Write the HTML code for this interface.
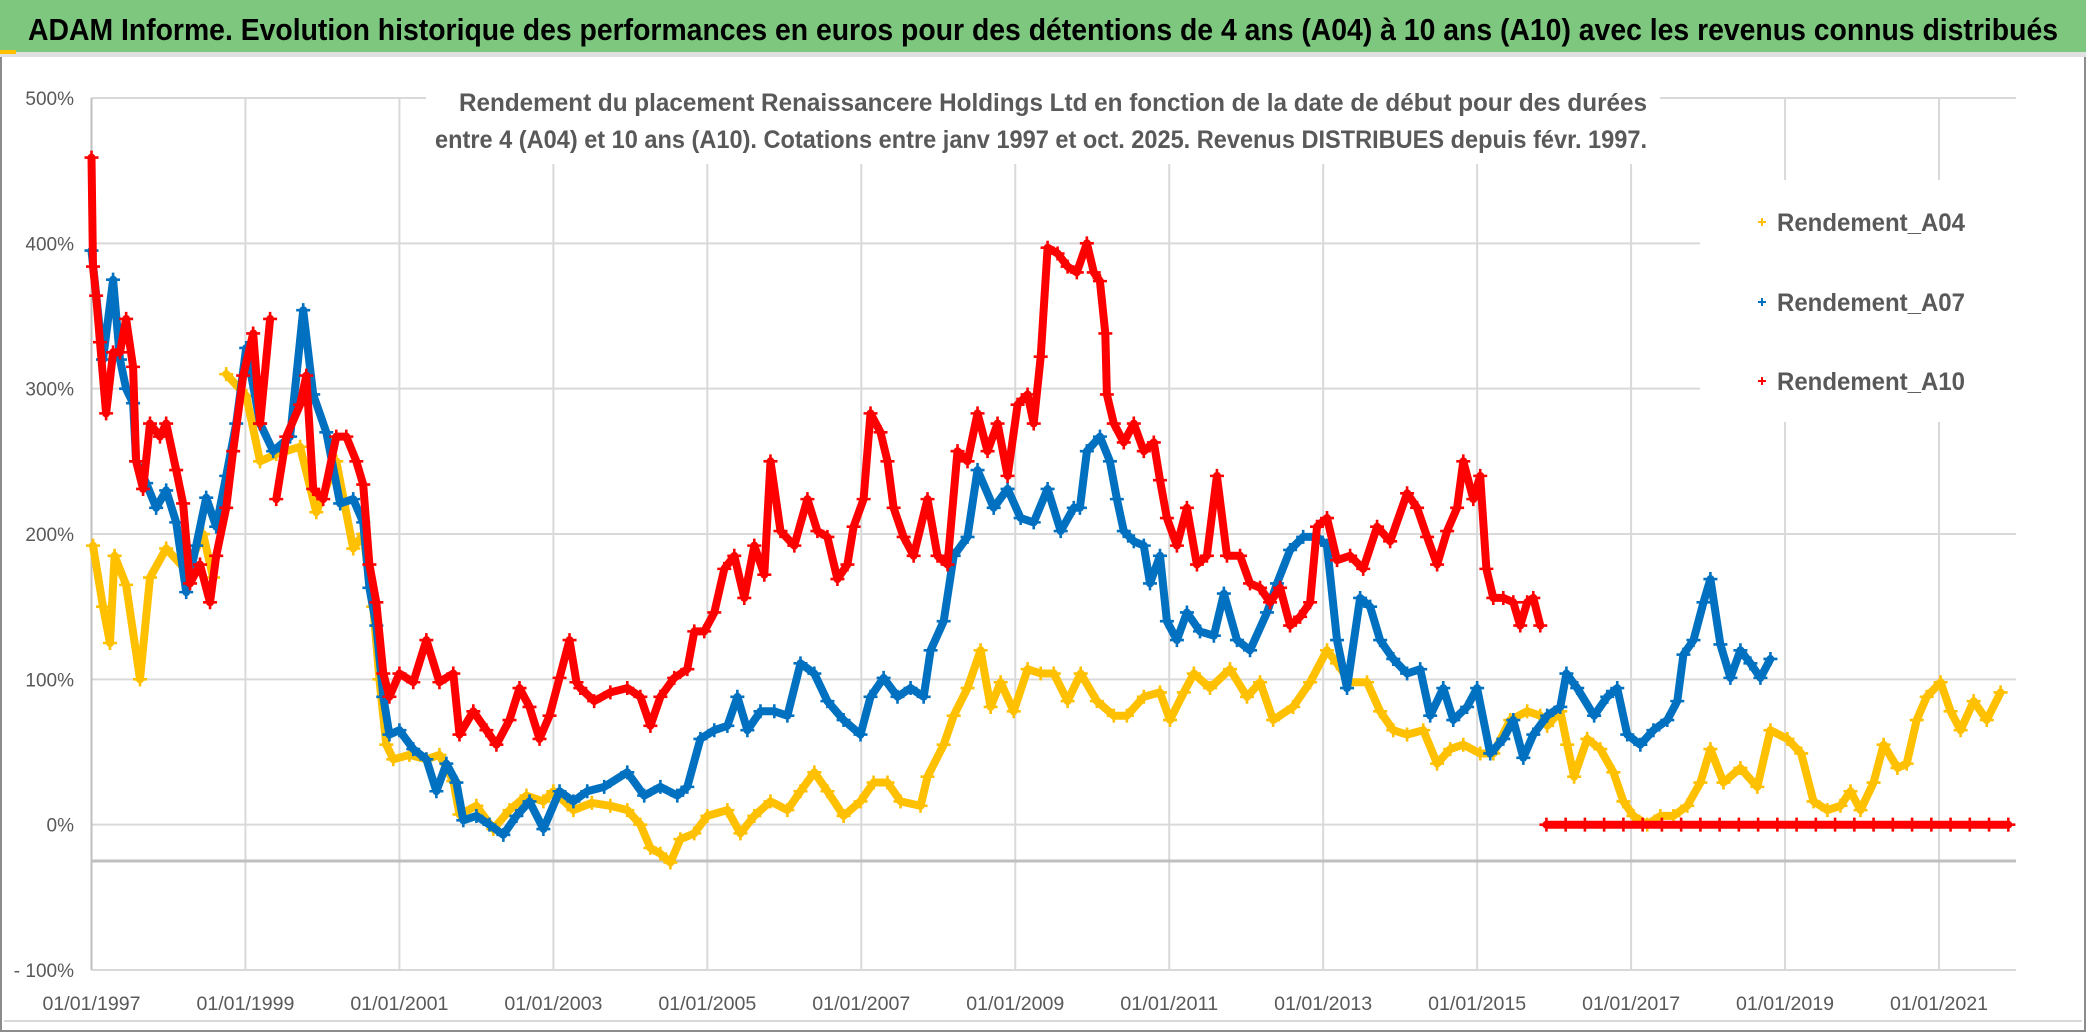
<!DOCTYPE html>
<html><head><meta charset="utf-8"><style>
html,body{margin:0;padding:0;background:#fff;}
svg{display:block;font-family:"Liberation Sans",sans-serif;}
</style></head><body>
<svg id="chart" width="2086" height="1032" viewBox="0 0 2086 1032" xmlns="http://www.w3.org/2000/svg">
<rect x="0" y="0" width="2086" height="1032" fill="#fff"/>
<rect x="1" y="1" width="2084" height="1030" fill="none" stroke="#8c8c8c" stroke-width="2"/>
<rect x="0" y="0" width="2086" height="52" fill="#7dc77f"/>
<rect x="0" y="52" width="2086" height="5" fill="#e0e0e0"/>
<rect x="0" y="50" width="16" height="4" fill="#ffc000"/>
<text x="1043" y="40" text-anchor="middle" font-size="31" font-weight="bold" fill="#000" textLength="2030" lengthAdjust="spacingAndGlyphs">ADAM Informe. Evolution historique des performances en euros pour des détentions de 4 ans (A04) à 10 ans (A10) avec les revenus connus distribués</text>
<rect x="4" y="1020" width="2078" height="2" fill="#d9d9d9"/>
<g id="grid"></g>
<g id="marks"></g>
<rect x="426" y="80" width="1234" height="84" fill="#fff"/>
<text x="1053" y="111" text-anchor="middle" font-size="25" font-weight="bold" fill="#595959" textLength="1188" lengthAdjust="spacingAndGlyphs">Rendement du placement Renaissancere Holdings Ltd en fonction de la date de début pour des durées</text>
<text x="1041" y="148" text-anchor="middle" font-size="25" font-weight="bold" fill="#595959" textLength="1212" lengthAdjust="spacingAndGlyphs">entre 4 (A04) et 10 ans (A10). Cotations entre janv 1997 et oct. 2025. Revenus DISTRIBUES depuis févr. 1997.</text>
<rect x="1700" y="180" width="316" height="242" fill="#fff"/>
<g id="legend"></g>
<g id="axes"></g>
</svg>
<script>
const yTicks = [500, 400, 300, 200, 100, 0, -100];
const yTickLabels = ["500%", "400%", "300%", "200%", "100%", "0%", "- 100%"];
const xTicks = [1997, 1999, 2001, 2003, 2005, 2007, 2009, 2011, 2013, 2015, 2017, 2019, 2021];
const xTickLabels = ["01/01/1997","01/01/1999","01/01/2001","01/01/2003","01/01/2005","01/01/2007","01/01/2009","01/01/2011","01/01/2013","01/01/2015","01/01/2017","01/01/2019","01/01/2021"];
const seriesNames = ["Rendement_A04", "Rendement_A07", "Rendement_A10"];
const a04Years = [1997.02,1997.15,1997.24,1997.30,1997.45,1997.63,1997.76,1997.97,1998.23,1998.45,1998.58,1998.75,1999.01,1999.19,1999.40,1999.71,1999.92,2000.18,2000.40,2000.53,2000.66,2000.74,2000.83,2000.92,2001.13,2001.35,2001.52,2001.70,2001.78,2002.00,2002.22,2002.43,2002.65,2002.87,2003.00,2003.26,2003.50,2003.74,2003.96,2004.13,2004.26,2004.39,2004.52,2004.65,2004.83,2005.00,2005.26,2005.43,2005.61,2005.82,2006.04,2006.21,2006.39,2006.56,2006.77,2006.99,2007.16,2007.34,2007.51,2007.77,2007.86,2008.07,2008.20,2008.38,2008.55,2008.68,2008.81,2008.98,2009.16,2009.33,2009.50,2009.68,2009.85,2010.06,2010.28,2010.45,2010.67,2010.88,2011.01,2011.19,2011.32,2011.53,2011.79,2012.01,2012.18,2012.35,2012.61,2012.83,2013.05,2013.18,2013.35,2013.57,2013.74,2013.91,2014.09,2014.30,2014.48,2014.65,2014.82,2015.04,2015.21,2015.43,2015.65,2015.82,2015.91,2016.08,2016.17,2016.26,2016.43,2016.60,2016.77,2016.90,2017.03,2017.21,2017.38,2017.55,2017.73,2017.90,2018.03,2018.20,2018.42,2018.64,2018.81,2019.03,2019.21,2019.37,2019.55,2019.72,2019.85,2019.98,2020.15,2020.28,2020.46,2020.58,2020.71,2020.84,2021.02,2021.15,2021.28,2021.45,2021.62,2021.80];
const a04Values = [192,150,125,185,165,100,170,190,175,200,170,310,295,250,255,260,215,250,190,200,150,100,55,45,48,45,48,30,7,13,-3,10,20,16,23,10,15,13,10,0,-16,-20,-26,-10,-6,6,10,-6,6,16,10,23,36,23,6,16,29,29,16,13,33,55,75,94,120,81,98,78,107,104,104,85,104,85,75,75,88,91,72,91,104,94,107,88,98,72,81,98,120,111,98,98,78,65,62,65,42,52,55,49,49,72,78,75,68,78,55,33,59,52,36,16,6,0,6,6,13,29,52,29,39,26,65,59,49,16,10,13,23,10,29,55,39,42,72,88,98,78,65,85,72,91];
const a07Years = [1997.00,1997.15,1997.28,1997.37,1997.45,1997.54,1997.58,1997.71,1997.84,1997.97,1998.10,1998.23,1998.36,1998.49,1998.62,1998.75,1998.88,1999.01,1999.19,1999.36,1999.58,1999.75,1999.88,2000.05,2000.23,2000.40,2000.53,2000.61,2000.70,2000.79,2000.87,2001.00,2001.18,2001.35,2001.48,2001.61,2001.74,2001.83,2002.00,2002.17,2002.35,2002.52,2002.69,2002.87,2003.08,2003.26,2003.44,2003.66,2003.96,2004.18,2004.39,2004.61,2004.74,2004.91,2005.09,2005.26,2005.39,2005.52,2005.69,2005.87,2006.04,2006.21,2006.39,2006.56,2006.77,2006.99,2007.12,2007.29,2007.47,2007.64,2007.81,2007.90,2008.07,2008.20,2008.38,2008.51,2008.72,2008.90,2009.07,2009.24,2009.42,2009.59,2009.76,2009.84,2009.93,2010.10,2010.23,2010.32,2010.41,2010.54,2010.67,2010.75,2010.88,2010.97,2011.10,2011.23,2011.40,2011.58,2011.71,2011.88,2012.05,2012.27,2012.40,2012.57,2012.74,2012.92,2013.05,2013.18,2013.31,2013.48,2013.61,2013.74,2013.91,2014.09,2014.26,2014.39,2014.56,2014.69,2014.87,2015.00,2015.17,2015.34,2015.47,2015.60,2015.73,2015.91,2016.08,2016.16,2016.30,2016.52,2016.69,2016.82,2016.95,2017.12,2017.29,2017.47,2017.60,2017.68,2017.81,2017.94,2018.03,2018.16,2018.29,2018.42,2018.55,2018.68,2018.81];
const a07Values = [395,320,375,320,300,290,250,235,218,230,208,160,192,225,205,240,276,328,276,257,267,354,296,270,221,224,208,163,137,88,62,65,52,45,23,42,29,3,6,0,-7,6,16,-3,23,16,23,26,36,20,26,20,26,59,65,68,88,65,78,78,75,111,104,85,72,62,88,101,88,94,88,120,140,185,198,244,218,231,211,208,231,202,218,218,257,267,250,224,202,195,192,166,185,140,127,146,133,130,159,127,120,146,166,189,198,198,192,127,94,156,150,127,114,104,107,75,94,72,81,94,49,59,72,46,62,75,81,104,94,75,88,94,62,55,65,72,85,117,127,153,169,124,101,120,111,101,114];
const a10Years = [1997.00,1997.02,1997.06,1997.11,1997.19,1997.28,1997.37,1997.45,1997.54,1997.58,1997.67,1997.76,1997.89,1997.97,1998.10,1998.19,1998.28,1998.41,1998.54,1998.62,1998.75,1998.84,1998.97,1999.10,1999.19,1999.32,1999.40,1999.53,1999.71,1999.79,1999.88,2000.01,2000.18,2000.31,2000.44,2000.53,2000.61,2000.70,2000.79,2000.87,2001.00,2001.18,2001.35,2001.52,2001.70,2001.78,2001.96,2002.13,2002.26,2002.43,2002.56,2002.69,2002.82,2002.95,2003.08,2003.21,2003.30,2003.35,2003.53,2003.74,2003.96,2004.13,2004.26,2004.39,2004.57,2004.74,2004.83,2004.96,2005.09,2005.22,2005.35,2005.48,2005.61,2005.74,2005.82,2005.95,2006.13,2006.30,2006.43,2006.56,2006.69,2006.82,2006.90,2007.03,2007.12,2007.25,2007.34,2007.42,2007.55,2007.68,2007.86,2007.99,2008.12,2008.25,2008.38,2008.51,2008.64,2008.77,2008.90,2009.03,2009.16,2009.24,2009.33,2009.42,2009.55,2009.68,2009.80,2009.93,2010.02,2010.10,2010.17,2010.19,2010.28,2010.41,2010.54,2010.67,2010.80,2010.88,2010.97,2011.10,2011.23,2011.36,2011.49,2011.62,2011.75,2011.92,2012.05,2012.18,2012.31,2012.44,2012.57,2012.70,2012.83,2012.92,2013.05,2013.18,2013.35,2013.52,2013.70,2013.87,2014.09,2014.22,2014.35,2014.48,2014.61,2014.74,2014.82,2014.95,2015.04,2015.12,2015.21,2015.34,2015.47,2015.56,2015.65,2015.73,2015.82,2015.90,2016.15,2016.40,2016.65,2016.90,2017.15,2017.40,2017.65,2017.90,2018.15,2018.40,2018.65,2018.90,2019.15,2019.40,2019.65,2019.90,2020.15,2020.40,2020.65,2020.90,2021.15,2021.40,2021.65,2021.90,2022.00];
const a10Values = [459,384,364,332,283,325,325,348,315,250,231,276,267,276,244,221,166,179,153,185,218,257,309,338,276,348,224,267,289,309,231,224,267,267,250,234,179,153,104,88,104,98,127,98,104,62,78,65,55,72,94,81,59,75,101,127,98,94,85,91,94,88,68,88,101,107,133,133,146,176,185,156,192,172,250,202,192,224,202,198,169,179,205,224,283,270,250,218,198,185,224,185,179,257,250,283,257,276,240,289,296,276,322,397,393,384,380,400,380,374,338,296,276,263,276,257,263,237,211,192,218,179,185,240,185,185,166,163,153,163,137,143,153,205,211,182,185,176,205,195,228,218,198,179,202,218,250,224,240,176,156,156,153,137,153,156,137,0,0,0,0,0,0,0,0,0,0,0,0,0,0,0,0,0,0,0,0,0,0,0,0,0];

const NS = "http://www.w3.org/2000/svg";
const X0 = 91.5, X1 = 2016, YEAR0 = 1997, YEAR1 = 2022;
const Y_TOP = 98, Y_BOT = 970, V_TOP = 500, V_BOT = -100;
function xScale(yr){ return X0 + (yr - YEAR0) / (YEAR1 - YEAR0) * (X1 - X0); }
function yScale(v){ return Y_TOP + (V_TOP - v) / (V_TOP - V_BOT) * (Y_BOT - Y_TOP); }
function mk(tag, attrs, parent){ const e = document.createElementNS(NS, tag); for (const k in attrs) e.setAttribute(k, attrs[k]); parent.appendChild(e); return e; }

const grid = document.getElementById('grid');
const axes = document.getElementById('axes');
const marks = document.getElementById('marks');
const legend = document.getElementById('legend');

yTicks.forEach((v, i) => {
  const l = mk('line', {x1: X0, x2: X1, y1: yScale(v), y2: yScale(v), stroke: '#d9d9d9', 'stroke-width': 2}, grid);
  
  
  const t = mk('text', {x: 74, y: yScale(v) + 7, 'text-anchor': 'end', 'font-size': 19, fill: '#595959'}, axes);
  t.textContent = yTickLabels[i];
  
  
});
xTicks.forEach((yr, i) => {
  const l = mk('line', {x1: xScale(yr), x2: xScale(yr), y1: Y_TOP, y2: Y_BOT, stroke: '#d9d9d9', 'stroke-width': 2}, grid);
  
  
  const t = mk('text', {x: xScale(yr), y: 1010, 'text-anchor': 'middle', 'font-size': 19, fill: '#595959', textLength: 98, lengthAdjust: 'spacingAndGlyphs'}, axes);
  t.textContent = xTickLabels[i];
  
  
});
const ax = mk('line', {x1: X0, x2: X1, y1: yScale(-25), y2: yScale(-25), stroke: '#bfbfbf', 'stroke-width': 3}, grid);


const ay = mk('line', {x1: X0, x2: X0, y1: Y_TOP, y2: Y_BOT, stroke: '#bfbfbf', 'stroke-width': 2}, grid);



function plus(x, y, s, color, parent, w){
  return mk('path', {d: `M${x-s},${y}H${x+s}M${x},${y-s}V${y+s}`, stroke: color, 'stroke-width': w, fill: 'none'}, parent);
}
function drawSeries(years, values, color, name){
  const g = mk('g', {}, marks);
  
  
  let d = '';
  for (let i = 0; i < years.length; i++) {
    const x = xScale(years[i]), y = yScale(values[i]);
    const brk = i === 0 || Math.abs(values[i] - values[i-1]) > 100;
    d += (brk ? 'M' : 'L') + x.toFixed(1) + ',' + y.toFixed(1);
  }
  const p = mk('path', {d: d, stroke: color, 'stroke-width': 8, fill: 'none', 'stroke-linejoin': 'round', 'stroke-linecap': 'round'}, g);
  
  
  for (let i = 0; i < years.length; i++) {
    const m = plus(xScale(years[i]), yScale(values[i]), 7, color, g, 2.6);
    
    
  }
}
drawSeries(a04Years, a04Values, '#ffc000', 'series-a04');
drawSeries(a07Years, a07Values, '#0070c0', 'series-a07');
drawSeries(a10Years, a10Values, '#ff0000', 'series-a10');

const legColors = ['#ffc000', '#0070c0', '#ff0000'];
const legY = [222, 302, 381];
seriesNames.forEach((n, i) => {
  const m = plus(1762, legY[i], 4, legColors[i], legend, 2);
  
  
  const t = mk('text', {x: 1777, y: legY[i] + 9, 'font-size': 25, 'font-weight': 'bold', fill: '#595959', textLength: 188, lengthAdjust: 'spacingAndGlyphs'}, legend);
  t.textContent = n;
  
  
});
</script>
</body></html>
